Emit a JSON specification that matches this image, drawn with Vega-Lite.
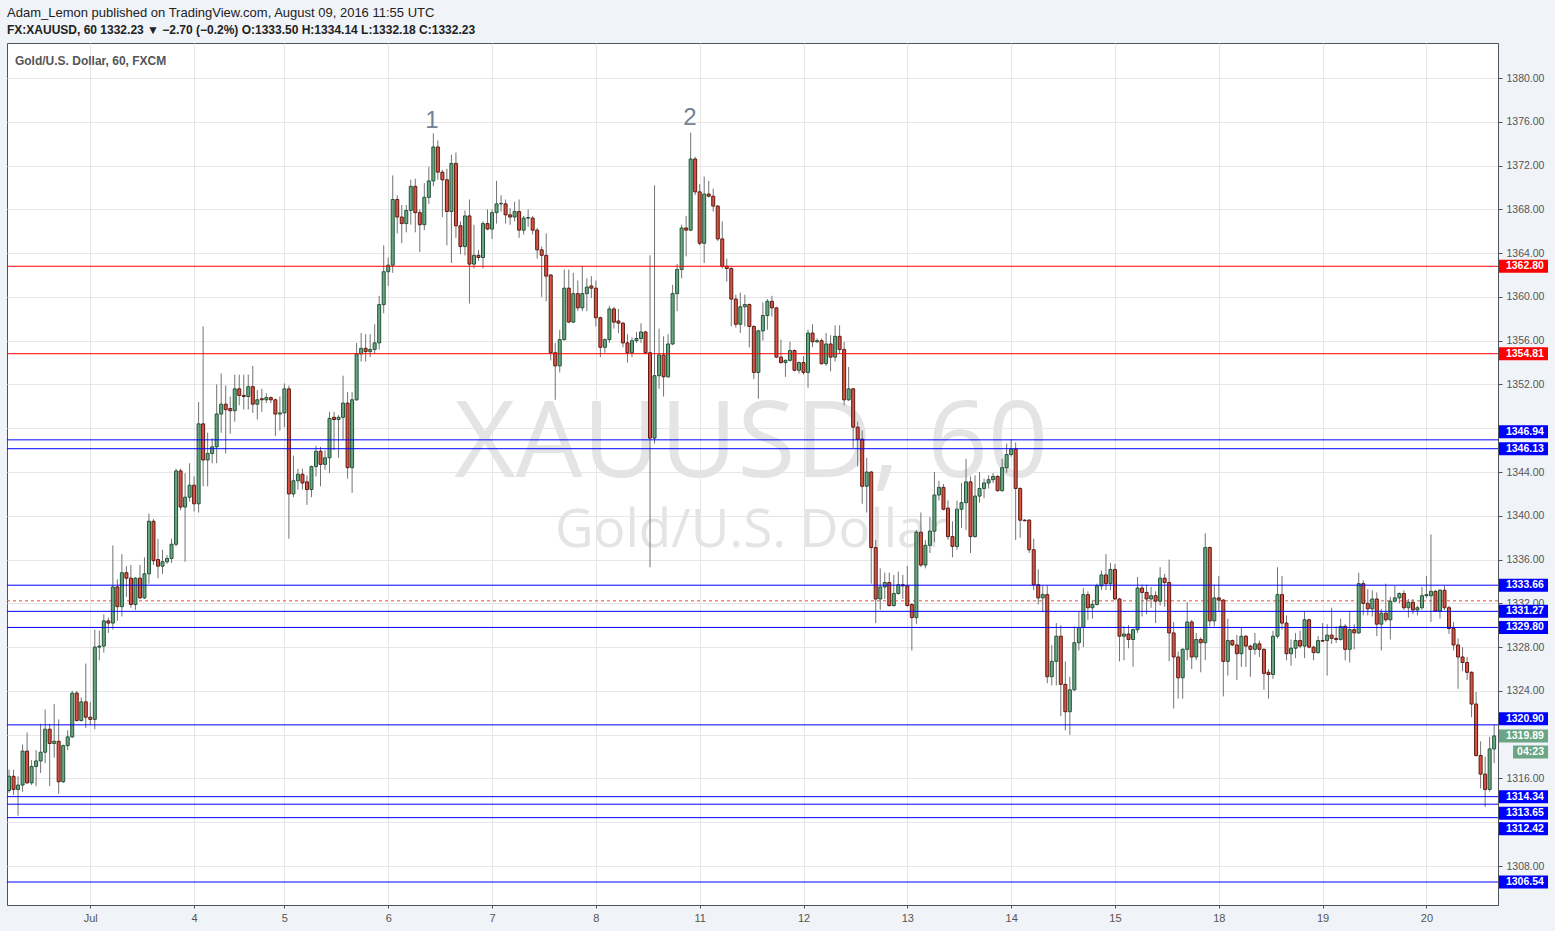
{
  "$schema": "https://vega.github.io/schema/vega-lite/v6.json",
  "width": 1491,
  "height": 862,
  "autosize": {"type": "none"},
  "padding": {"left": 7, "top": 43, "right": 57, "bottom": 26},
  "background": "#f0f3f7",
  "config": {
    "view": {"fill": "white", "stroke": "#50535e", "strokeWidth": 1},
    "font": "Liberation Sans"
  },
  "title": {
    "text": "Adam_Lemon published on TradingView.com, August 09, 2016 11:55 UTC",
    "subtitle": "FX:XAUUSD, 60  1332.23 ▼ −2.70 (−0.2%)  O:1333.50  H:1334.14  L:1332.18  C:1332.23",
    "anchor": "start",
    "frame": "group",
    "offset": 7,
    "font": "Liberation Sans",
    "fontSize": 13,
    "fontWeight": "normal",
    "color": "#222222",
    "subtitleFont": "Liberation Sans",
    "subtitleFontSize": 12,
    "subtitleFontWeight": "bold",
    "subtitleColor": "#222222",
    "subtitlePadding": 5
  },
  "datasets": {
    "candles": [
      {"i":0,"o":1314.9,"h":1316.8,"l":1314.7,"c":1316.2},
      {"i":1,"o":1316.2,"h":1316.8,"l":1314.5,"c":1315.0},
      {"i":2,"o":1315.0,"h":1316.2,"l":1312.6,"c":1315.4},
      {"i":3,"o":1315.4,"h":1319.1,"l":1314.8,"c":1318.5},
      {"i":4,"o":1318.5,"h":1320.2,"l":1315.5,"c":1315.6},
      {"i":5,"o":1315.6,"h":1317.7,"l":1315.4,"c":1317.1},
      {"i":6,"o":1317.1,"h":1318.6,"l":1315.3,"c":1317.6},
      {"i":7,"o":1317.6,"h":1321.0,"l":1316.5,"c":1318.4},
      {"i":8,"o":1318.4,"h":1322.3,"l":1317.4,"c":1320.5},
      {"i":9,"o":1320.5,"h":1321.0,"l":1315.3,"c":1319.2},
      {"i":10,"o":1319.2,"h":1322.8,"l":1317.9,"c":1319.4},
      {"i":11,"o":1319.4,"h":1321.4,"l":1314.6,"c":1315.7},
      {"i":12,"o":1315.7,"h":1319.1,"l":1315.6,"c":1319.0},
      {"i":13,"o":1319.0,"h":1320.4,"l":1318.6,"c":1319.8},
      {"i":14,"o":1319.8,"h":1324.0,"l":1319.7,"c":1323.8},
      {"i":15,"o":1323.8,"h":1324.0,"l":1321.2,"c":1321.3},
      {"i":16,"o":1321.3,"h":1323.4,"l":1321.2,"c":1323.0},
      {"i":17,"o":1323.0,"h":1326.5,"l":1320.6,"c":1321.6},
      {"i":18,"o":1321.6,"h":1323.0,"l":1320.9,"c":1321.4},
      {"i":19,"o":1321.4,"h":1329.6,"l":1320.5,"c":1328.0},
      {"i":20,"o":1328.0,"h":1329.5,"l":1326.8,"c":1328.1},
      {"i":21,"o":1328.1,"h":1331.0,"l":1327.5,"c":1330.4},
      {"i":22,"o":1330.4,"h":1330.7,"l":1329.3,"c":1330.2},
      {"i":23,"o":1330.2,"h":1337.3,"l":1329.6,"c":1333.5},
      {"i":24,"o":1333.5,"h":1334.2,"l":1330.4,"c":1331.7},
      {"i":25,"o":1331.7,"h":1336.5,"l":1330.8,"c":1334.8},
      {"i":26,"o":1334.8,"h":1335.4,"l":1332.6,"c":1334.3},
      {"i":27,"o":1334.3,"h":1335.5,"l":1331.6,"c":1331.9},
      {"i":28,"o":1331.9,"h":1334.4,"l":1331.4,"c":1334.3},
      {"i":29,"o":1334.3,"h":1335.5,"l":1332.4,"c":1332.5},
      {"i":30,"o":1332.5,"h":1336.2,"l":1332.4,"c":1334.7},
      {"i":31,"o":1334.7,"h":1340.2,"l":1333.8,"c":1339.5},
      {"i":32,"o":1339.5,"h":1339.7,"l":1335.5,"c":1335.9},
      {"i":33,"o":1336.0,"h":1337.9,"l":1334.3,"c":1335.4},
      {"i":34,"o":1335.4,"h":1336.9,"l":1334.7,"c":1335.8},
      {"i":35,"o":1335.8,"h":1336.4,"l":1335.6,"c":1336.1},
      {"i":36,"o":1336.1,"h":1337.9,"l":1335.7,"c":1337.4},
      {"i":37,"o":1337.4,"h":1344.3,"l":1337.2,"c":1344.1},
      {"i":38,"o":1344.1,"h":1344.3,"l":1340.5,"c":1340.8},
      {"i":39,"o":1340.8,"h":1343.9,"l":1335.8,"c":1341.7},
      {"i":40,"o":1341.7,"h":1344.8,"l":1341.3,"c":1342.8},
      {"i":41,"o":1342.8,"h":1343.6,"l":1340.4,"c":1341.1},
      {"i":42,"o":1341.1,"h":1350.4,"l":1340.3,"c":1348.4},
      {"i":43,"o":1348.4,"h":1357.3,"l":1342.7,"c":1345.1},
      {"i":44,"o":1345.1,"h":1347.6,"l":1342.7,"c":1345.7},
      {"i":45,"o":1345.7,"h":1347.1,"l":1344.8,"c":1346.3},
      {"i":46,"o":1346.3,"h":1352.0,"l":1344.8,"c":1349.3},
      {"i":47,"o":1349.3,"h":1353.0,"l":1347.6,"c":1350.2},
      {"i":48,"o":1350.2,"h":1351.9,"l":1345.7,"c":1349.7},
      {"i":49,"o":1349.8,"h":1350.9,"l":1347.5,"c":1349.6},
      {"i":50,"o":1349.6,"h":1352.9,"l":1348.6,"c":1351.6},
      {"i":51,"o":1351.6,"h":1352.9,"l":1350.1,"c":1351.0},
      {"i":52,"o":1351.0,"h":1352.9,"l":1349.7,"c":1350.9},
      {"i":53,"o":1350.9,"h":1352.9,"l":1349.7,"c":1351.8},
      {"i":54,"o":1351.8,"h":1353.7,"l":1349.4,"c":1350.2},
      {"i":55,"o":1350.2,"h":1351.5,"l":1348.8,"c":1350.6},
      {"i":56,"o":1350.7,"h":1351.6,"l":1349.5,"c":1350.6},
      {"i":57,"o":1350.6,"h":1351.2,"l":1350.3,"c":1350.8},
      {"i":58,"o":1350.8,"h":1350.9,"l":1350.3,"c":1350.6},
      {"i":59,"o":1350.6,"h":1350.7,"l":1347.3,"c":1349.3},
      {"i":60,"o":1349.3,"h":1350.9,"l":1347.8,"c":1349.4},
      {"i":61,"o":1349.4,"h":1352.1,"l":1348.1,"c":1351.6},
      {"i":62,"o":1351.6,"h":1351.9,"l":1337.9,"c":1342.0},
      {"i":63,"o":1342.0,"h":1345.5,"l":1341.7,"c":1343.2},
      {"i":64,"o":1343.2,"h":1344.3,"l":1342.4,"c":1343.8},
      {"i":65,"o":1343.8,"h":1344.3,"l":1342.4,"c":1343.0},
      {"i":66,"o":1343.1,"h":1343.7,"l":1341.0,"c":1342.4},
      {"i":67,"o":1342.4,"h":1344.6,"l":1341.7,"c":1344.5},
      {"i":68,"o":1344.5,"h":1346.4,"l":1343.6,"c":1345.9},
      {"i":69,"o":1345.9,"h":1346.3,"l":1342.7,"c":1344.7},
      {"i":70,"o":1344.7,"h":1346.0,"l":1344.2,"c":1345.3},
      {"i":71,"o":1345.3,"h":1349.5,"l":1343.9,"c":1348.9},
      {"i":72,"o":1349.0,"h":1349.5,"l":1346.0,"c":1348.8},
      {"i":73,"o":1348.8,"h":1349.2,"l":1345.3,"c":1349.0},
      {"i":74,"o":1349.0,"h":1352.8,"l":1346.9,"c":1350.3},
      {"i":75,"o":1350.3,"h":1351.3,"l":1343.4,"c":1344.4},
      {"i":76,"o":1344.4,"h":1351.3,"l":1342.1,"c":1350.6},
      {"i":77,"o":1350.6,"h":1355.8,"l":1350.5,"c":1354.8},
      {"i":78,"o":1354.8,"h":1356.7,"l":1354.1,"c":1355.3},
      {"i":79,"o":1355.3,"h":1356.6,"l":1354.1,"c":1355.0},
      {"i":80,"o":1355.0,"h":1356.6,"l":1354.5,"c":1355.2},
      {"i":81,"o":1355.2,"h":1357.5,"l":1354.8,"c":1355.8},
      {"i":82,"o":1355.8,"h":1360.1,"l":1355.2,"c":1359.3},
      {"i":83,"o":1359.3,"h":1364.7,"l":1358.5,"c":1362.3},
      {"i":84,"o":1362.3,"h":1363.6,"l":1361.0,"c":1362.9},
      {"i":85,"o":1362.9,"h":1371.1,"l":1362.2,"c":1368.9},
      {"i":86,"o":1368.9,"h":1369.3,"l":1365.8,"c":1367.3},
      {"i":87,"o":1367.3,"h":1368.4,"l":1364.9,"c":1366.7},
      {"i":88,"o":1366.7,"h":1368.4,"l":1365.9,"c":1367.9},
      {"i":89,"o":1367.9,"h":1370.7,"l":1366.6,"c":1370.1},
      {"i":90,"o":1370.1,"h":1370.8,"l":1365.9,"c":1367.7},
      {"i":91,"o":1367.7,"h":1368.0,"l":1364.1,"c":1366.6},
      {"i":92,"o":1366.6,"h":1370.4,"l":1366.1,"c":1369.1},
      {"i":93,"o":1369.1,"h":1371.9,"l":1368.5,"c":1370.6},
      {"i":94,"o":1370.6,"h":1374.95,"l":1370.1,"c":1373.7},
      {"i":95,"o":1373.7,"h":1374.3,"l":1370.7,"c":1371.4},
      {"i":96,"o":1371.4,"h":1371.6,"l":1367.3,"c":1370.7},
      {"i":97,"o":1370.7,"h":1371.7,"l":1364.7,"c":1367.8},
      {"i":98,"o":1367.8,"h":1373.0,"l":1363.1,"c":1372.2},
      {"i":99,"o":1372.2,"h":1373.2,"l":1365.4,"c":1366.5},
      {"i":100,"o":1366.5,"h":1366.9,"l":1363.9,"c":1364.6},
      {"i":101,"o":1364.6,"h":1367.9,"l":1363.8,"c":1367.4},
      {"i":102,"o":1367.4,"h":1368.9,"l":1359.4,"c":1363.0},
      {"i":103,"o":1363.0,"h":1366.6,"l":1362.6,"c":1363.8},
      {"i":104,"o":1363.8,"h":1364.3,"l":1363.3,"c":1363.6},
      {"i":105,"o":1363.6,"h":1366.9,"l":1362.6,"c":1366.7},
      {"i":106,"o":1366.7,"h":1368.0,"l":1366.1,"c":1366.2},
      {"i":107,"o":1366.2,"h":1368.0,"l":1365.3,"c":1367.7},
      {"i":108,"o":1367.7,"h":1370.6,"l":1366.7,"c":1368.5},
      {"i":109,"o":1368.5,"h":1369.3,"l":1367.8,"c":1368.55},
      {"i":110,"o":1368.5,"h":1368.9,"l":1366.7,"c":1367.5},
      {"i":111,"o":1367.5,"h":1368.1,"l":1366.6,"c":1367.3},
      {"i":112,"o":1367.3,"h":1368.7,"l":1366.9,"c":1367.8},
      {"i":113,"o":1367.8,"h":1368.9,"l":1365.4,"c":1366.1},
      {"i":114,"o":1366.1,"h":1367.4,"l":1365.7,"c":1367.2},
      {"i":115,"o":1367.2,"h":1368.0,"l":1366.4,"c":1367.25},
      {"i":116,"o":1367.2,"h":1367.4,"l":1365.7,"c":1366.1},
      {"i":117,"o":1366.1,"h":1366.3,"l":1363.5,"c":1364.3},
      {"i":118,"o":1364.3,"h":1364.6,"l":1360.0,"c":1363.8},
      {"i":119,"o":1363.8,"h":1365.8,"l":1359.6,"c":1361.9},
      {"i":120,"o":1362.0,"h":1362.1,"l":1354.2,"c":1354.9},
      {"i":121,"o":1354.9,"h":1355.8,"l":1350.6,"c":1353.7},
      {"i":122,"o":1353.7,"h":1357.0,"l":1353.1,"c":1356.1},
      {"i":123,"o":1356.1,"h":1362.5,"l":1356.0,"c":1360.8},
      {"i":124,"o":1360.8,"h":1362.5,"l":1357.6,"c":1357.7},
      {"i":125,"o":1357.7,"h":1362.2,"l":1357.6,"c":1360.3},
      {"i":126,"o":1360.3,"h":1361.5,"l":1358.7,"c":1359.0},
      {"i":127,"o":1359.0,"h":1362.8,"l":1358.7,"c":1360.3},
      {"i":128,"o":1360.3,"h":1361.7,"l":1358.7,"c":1360.9},
      {"i":129,"o":1361.0,"h":1361.9,"l":1359.9,"c":1360.8},
      {"i":130,"o":1360.8,"h":1361.5,"l":1357.3,"c":1358.1},
      {"i":131,"o":1358.1,"h":1358.2,"l":1354.5,"c":1355.4},
      {"i":132,"o":1355.4,"h":1356.2,"l":1354.9,"c":1356.1},
      {"i":133,"o":1356.1,"h":1359.2,"l":1355.8,"c":1358.9},
      {"i":134,"o":1358.9,"h":1359.1,"l":1357.1,"c":1357.7},
      {"i":135,"o":1357.8,"h":1358.9,"l":1356.7,"c":1357.6},
      {"i":136,"o":1357.6,"h":1357.7,"l":1355.4,"c":1355.8},
      {"i":137,"o":1355.8,"h":1356.6,"l":1354.0,"c":1354.9},
      {"i":138,"o":1354.9,"h":1356.3,"l":1354.5,"c":1356.0},
      {"i":139,"o":1356.0,"h":1356.8,"l":1355.8,"c":1356.2},
      {"i":140,"o":1356.2,"h":1357.6,"l":1355.8,"c":1356.8},
      {"i":141,"o":1356.8,"h":1356.9,"l":1354.8,"c":1354.9},
      {"i":142,"o":1354.9,"h":1363.8,"l":1335.3,"c":1347.1},
      {"i":143,"o":1347.1,"h":1370.2,"l":1346.6,"c":1352.8},
      {"i":144,"o":1352.8,"h":1357.1,"l":1351.6,"c":1354.7},
      {"i":145,"o":1354.7,"h":1356.4,"l":1350.9,"c":1352.7},
      {"i":146,"o":1352.7,"h":1356.6,"l":1352.6,"c":1355.7},
      {"i":147,"o":1355.7,"h":1361.1,"l":1355.6,"c":1360.3},
      {"i":148,"o":1360.3,"h":1363.0,"l":1358.7,"c":1362.5},
      {"i":149,"o":1362.5,"h":1366.6,"l":1361.7,"c":1366.3},
      {"i":150,"o":1366.3,"h":1367.4,"l":1363.7,"c":1366.1},
      {"i":151,"o":1366.1,"h":1375.0,"l":1366.0,"c":1372.6},
      {"i":152,"o":1372.6,"h":1372.8,"l":1369.3,"c":1369.6},
      {"i":153,"o":1369.6,"h":1370.3,"l":1364.7,"c":1364.9},
      {"i":154,"o":1364.9,"h":1371.0,"l":1363.1,"c":1369.4},
      {"i":155,"o":1369.4,"h":1370.6,"l":1369.1,"c":1369.2},
      {"i":156,"o":1369.2,"h":1369.9,"l":1367.8,"c":1368.3},
      {"i":157,"o":1368.3,"h":1368.4,"l":1365.1,"c":1365.3},
      {"i":158,"o":1365.3,"h":1366.9,"l":1362.6,"c":1362.8},
      {"i":159,"o":1362.8,"h":1363.5,"l":1361.4,"c":1362.6},
      {"i":160,"o":1362.6,"h":1362.7,"l":1357.3,"c":1359.8},
      {"i":161,"o":1359.8,"h":1360.2,"l":1357.2,"c":1357.5},
      {"i":162,"o":1357.5,"h":1360.4,"l":1356.7,"c":1359.1},
      {"i":163,"o":1359.1,"h":1360.2,"l":1357.3,"c":1359.3},
      {"i":164,"o":1359.3,"h":1359.4,"l":1355.4,"c":1357.3},
      {"i":165,"o":1357.3,"h":1357.4,"l":1352.5,"c":1353.1},
      {"i":166,"o":1353.1,"h":1357.0,"l":1350.7,"c":1356.9},
      {"i":167,"o":1356.9,"h":1359.5,"l":1356.0,"c":1358.3},
      {"i":168,"o":1358.3,"h":1359.8,"l":1357.0,"c":1359.6},
      {"i":169,"o":1359.6,"h":1360.1,"l":1358.2,"c":1359.0},
      {"i":170,"o":1359.0,"h":1359.1,"l":1354.4,"c":1354.5},
      {"i":171,"o":1354.5,"h":1356.1,"l":1353.9,"c":1354.0},
      {"i":172,"o":1354.0,"h":1354.3,"l":1352.7,"c":1354.2},
      {"i":173,"o":1354.2,"h":1355.9,"l":1354.1,"c":1355.1},
      {"i":174,"o":1355.1,"h":1355.2,"l":1353.2,"c":1353.3},
      {"i":175,"o":1353.3,"h":1354.1,"l":1353.0,"c":1354.0},
      {"i":176,"o":1354.0,"h":1354.6,"l":1352.9,"c":1353.1},
      {"i":177,"o":1353.1,"h":1357.0,"l":1351.7,"c":1356.7},
      {"i":178,"o":1356.7,"h":1357.5,"l":1355.4,"c":1355.9},
      {"i":179,"o":1355.9,"h":1356.2,"l":1355.8,"c":1356.0},
      {"i":180,"o":1356.0,"h":1356.2,"l":1353.8,"c":1353.9},
      {"i":181,"o":1353.9,"h":1356.7,"l":1353.7,"c":1355.7},
      {"i":182,"o":1355.7,"h":1356.5,"l":1353.2,"c":1354.5},
      {"i":183,"o":1354.5,"h":1357.4,"l":1354.1,"c":1356.4},
      {"i":184,"o":1356.4,"h":1357.4,"l":1354.8,"c":1355.2},
      {"i":185,"o":1355.2,"h":1355.9,"l":1350.1,"c":1350.6},
      {"i":186,"o":1350.6,"h":1353.6,"l":1350.5,"c":1351.6},
      {"i":187,"o":1351.6,"h":1351.7,"l":1346.2,"c":1348.1},
      {"i":188,"o":1348.1,"h":1348.6,"l":1344.5,"c":1347.0},
      {"i":189,"o":1347.0,"h":1347.8,"l":1341.1,"c":1342.7},
      {"i":190,"o":1342.7,"h":1345.3,"l":1340.3,"c":1344.0},
      {"i":191,"o":1344.0,"h":1344.1,"l":1333.8,"c":1337.1},
      {"i":192,"o":1337.1,"h":1337.8,"l":1330.2,"c":1332.4},
      {"i":193,"o":1332.4,"h":1335.2,"l":1331.4,"c":1333.5},
      {"i":194,"o":1333.5,"h":1334.8,"l":1332.4,"c":1333.9},
      {"i":195,"o":1333.9,"h":1334.8,"l":1331.7,"c":1331.8},
      {"i":196,"o":1331.8,"h":1334.6,"l":1331.7,"c":1332.9},
      {"i":197,"o":1332.9,"h":1334.9,"l":1332.8,"c":1333.7},
      {"i":198,"o":1333.7,"h":1334.6,"l":1332.4,"c":1333.6},
      {"i":199,"o":1333.6,"h":1335.4,"l":1331.7,"c":1331.8},
      {"i":200,"o":1331.9,"h":1332.0,"l":1327.7,"c":1330.7},
      {"i":201,"o":1330.7,"h":1338.7,"l":1330.1,"c":1338.5},
      {"i":202,"o":1338.5,"h":1340.3,"l":1335.3,"c":1335.5},
      {"i":203,"o":1335.5,"h":1337.8,"l":1335.2,"c":1337.3},
      {"i":204,"o":1337.3,"h":1339.9,"l":1336.6,"c":1338.6},
      {"i":205,"o":1338.6,"h":1344.0,"l":1337.6,"c":1341.9},
      {"i":206,"o":1341.9,"h":1343.2,"l":1341.4,"c":1342.6},
      {"i":207,"o":1342.6,"h":1342.9,"l":1340.5,"c":1340.6},
      {"i":208,"o":1340.7,"h":1341.4,"l":1337.8,"c":1338.1},
      {"i":209,"o":1338.1,"h":1339.5,"l":1336.2,"c":1337.2},
      {"i":210,"o":1337.2,"h":1341.4,"l":1336.9,"c":1340.6},
      {"i":211,"o":1340.6,"h":1343.0,"l":1338.9,"c":1341.2},
      {"i":212,"o":1341.2,"h":1345.2,"l":1338.7,"c":1343.1},
      {"i":213,"o":1343.1,"h":1343.6,"l":1336.6,"c":1338.1},
      {"i":214,"o":1338.1,"h":1343.7,"l":1338.0,"c":1341.8},
      {"i":215,"o":1341.8,"h":1344.0,"l":1341.2,"c":1342.5},
      {"i":216,"o":1342.5,"h":1343.4,"l":1341.6,"c":1343.0},
      {"i":217,"o":1343.0,"h":1343.7,"l":1342.5,"c":1343.3},
      {"i":218,"o":1343.3,"h":1343.9,"l":1343.0,"c":1343.6},
      {"i":219,"o":1343.6,"h":1343.7,"l":1342.2,"c":1342.3},
      {"i":220,"o":1342.3,"h":1345.2,"l":1342.2,"c":1344.4},
      {"i":221,"o":1344.4,"h":1346.6,"l":1343.9,"c":1345.6},
      {"i":222,"o":1345.6,"h":1347.0,"l":1345.4,"c":1346.1},
      {"i":223,"o":1346.1,"h":1346.7,"l":1337.8,"c":1342.5},
      {"i":224,"o":1342.5,"h":1342.6,"l":1338.0,"c":1339.6},
      {"i":225,"o":1339.6,"h":1339.7,"l":1339.5,"c":1339.55},
      {"i":226,"o":1339.6,"h":1339.7,"l":1336.6,"c":1336.9},
      {"i":227,"o":1336.9,"h":1337.9,"l":1333.2,"c":1333.7},
      {"i":228,"o":1333.7,"h":1335.1,"l":1331.9,"c":1332.5},
      {"i":229,"o":1332.5,"h":1333.6,"l":1331.2,"c":1332.8},
      {"i":230,"o":1332.8,"h":1333.6,"l":1324.7,"c":1325.3},
      {"i":231,"o":1325.3,"h":1328.2,"l":1324.5,"c":1326.7},
      {"i":232,"o":1326.7,"h":1330.2,"l":1324.5,"c":1329.0},
      {"i":233,"o":1329.0,"h":1330.0,"l":1321.7,"c":1324.6},
      {"i":234,"o":1324.6,"h":1326.7,"l":1320.4,"c":1322.1},
      {"i":235,"o":1322.1,"h":1325.3,"l":1320.0,"c":1324.1},
      {"i":236,"o":1324.1,"h":1329.9,"l":1324.0,"c":1328.4},
      {"i":237,"o":1328.4,"h":1331.3,"l":1327.7,"c":1329.8},
      {"i":238,"o":1329.8,"h":1333.4,"l":1328.0,"c":1332.8},
      {"i":239,"o":1332.8,"h":1333.1,"l":1330.5,"c":1331.6},
      {"i":240,"o":1331.6,"h":1332.3,"l":1330.6,"c":1331.9},
      {"i":241,"o":1331.9,"h":1333.8,"l":1331.8,"c":1333.6},
      {"i":242,"o":1333.6,"h":1335.0,"l":1333.2,"c":1334.6},
      {"i":243,"o":1334.6,"h":1336.5,"l":1333.2,"c":1333.8},
      {"i":244,"o":1333.8,"h":1335.7,"l":1333.2,"c":1335.1},
      {"i":245,"o":1335.1,"h":1335.6,"l":1332.3,"c":1332.4},
      {"i":246,"o":1332.4,"h":1332.5,"l":1326.7,"c":1329.0},
      {"i":247,"o":1329.0,"h":1329.9,"l":1326.8,"c":1329.2},
      {"i":248,"o":1329.2,"h":1330.0,"l":1327.9,"c":1328.7},
      {"i":249,"o":1328.7,"h":1329.7,"l":1326.2,"c":1329.6},
      {"i":250,"o":1329.6,"h":1334.4,"l":1329.3,"c":1333.4},
      {"i":251,"o":1333.4,"h":1333.7,"l":1330.8,"c":1333.0},
      {"i":252,"o":1333.0,"h":1333.7,"l":1331.0,"c":1332.4},
      {"i":253,"o":1332.4,"h":1333.5,"l":1331.6,"c":1332.7},
      {"i":254,"o":1332.7,"h":1333.1,"l":1330.2,"c":1332.2},
      {"i":255,"o":1332.2,"h":1335.3,"l":1331.8,"c":1334.3},
      {"i":256,"o":1334.3,"h":1334.7,"l":1331.7,"c":1333.9},
      {"i":257,"o":1333.9,"h":1336.0,"l":1326.7,"c":1329.3},
      {"i":258,"o":1329.3,"h":1330.3,"l":1322.4,"c":1327.1},
      {"i":259,"o":1327.1,"h":1327.6,"l":1323.3,"c":1325.2},
      {"i":260,"o":1325.2,"h":1327.9,"l":1323.3,"c":1327.8},
      {"i":261,"o":1327.8,"h":1332.1,"l":1326.8,"c":1330.3},
      {"i":262,"o":1330.3,"h":1330.5,"l":1326.0,"c":1327.1},
      {"i":263,"o":1327.1,"h":1329.3,"l":1326.8,"c":1328.7},
      {"i":264,"o":1328.7,"h":1328.9,"l":1325.7,"c":1328.4},
      {"i":265,"o":1328.4,"h":1338.4,"l":1326.8,"c":1337.1},
      {"i":266,"o":1337.1,"h":1337.2,"l":1329.9,"c":1330.4},
      {"i":267,"o":1330.4,"h":1333.7,"l":1329.9,"c":1332.5},
      {"i":268,"o":1332.5,"h":1334.5,"l":1331.2,"c":1332.3},
      {"i":269,"o":1332.3,"h":1332.4,"l":1323.5,"c":1326.7},
      {"i":270,"o":1326.7,"h":1330.6,"l":1325.4,"c":1328.6},
      {"i":271,"o":1328.6,"h":1328.7,"l":1328.1,"c":1328.2},
      {"i":272,"o":1328.2,"h":1329.1,"l":1325.0,"c":1327.4},
      {"i":273,"o":1327.4,"h":1329.8,"l":1326.2,"c":1329.0},
      {"i":274,"o":1329.0,"h":1329.1,"l":1326.2,"c":1328.1},
      {"i":275,"o":1328.1,"h":1328.2,"l":1325.3,"c":1327.8},
      {"i":276,"o":1327.8,"h":1329.3,"l":1327.3,"c":1328.3},
      {"i":277,"o":1328.3,"h":1328.6,"l":1327.1,"c":1327.8},
      {"i":278,"o":1327.8,"h":1327.9,"l":1324.1,"c":1325.6},
      {"i":279,"o":1325.7,"h":1326.0,"l":1323.3,"c":1325.5},
      {"i":280,"o":1325.5,"h":1329.5,"l":1325.1,"c":1329.0},
      {"i":281,"o":1329.0,"h":1335.3,"l":1328.8,"c":1332.8},
      {"i":282,"o":1332.8,"h":1334.5,"l":1329.6,"c":1330.2},
      {"i":283,"o":1330.2,"h":1330.9,"l":1326.8,"c":1327.4},
      {"i":284,"o":1327.4,"h":1328.7,"l":1326.3,"c":1327.9},
      {"i":285,"o":1327.9,"h":1329.3,"l":1327.0,"c":1328.6},
      {"i":286,"o":1328.6,"h":1329.5,"l":1327.9,"c":1328.1},
      {"i":287,"o":1328.1,"h":1331.3,"l":1327.0,"c":1330.5},
      {"i":288,"o":1330.5,"h":1330.6,"l":1327.9,"c":1328.0},
      {"i":289,"o":1328.0,"h":1328.1,"l":1326.8,"c":1327.5},
      {"i":290,"o":1327.5,"h":1329.0,"l":1327.4,"c":1328.6},
      {"i":291,"o":1328.6,"h":1330.2,"l":1328.5,"c":1328.55},
      {"i":292,"o":1328.6,"h":1330.1,"l":1325.4,"c":1329.1},
      {"i":293,"o":1329.1,"h":1331.6,"l":1328.3,"c":1328.8},
      {"i":294,"o":1328.8,"h":1329.9,"l":1328.4,"c":1328.7},
      {"i":295,"o":1328.7,"h":1330.6,"l":1328.6,"c":1329.9},
      {"i":296,"o":1329.9,"h":1330.1,"l":1326.8,"c":1327.8},
      {"i":297,"o":1327.8,"h":1331.3,"l":1326.6,"c":1329.6},
      {"i":298,"o":1329.6,"h":1330.1,"l":1327.8,"c":1329.3},
      {"i":299,"o":1329.3,"h":1334.8,"l":1329.2,"c":1333.8},
      {"i":300,"o":1333.8,"h":1334.1,"l":1330.9,"c":1332.0},
      {"i":301,"o":1332.0,"h":1333.3,"l":1330.9,"c":1331.5},
      {"i":302,"o":1331.5,"h":1333.2,"l":1330.8,"c":1332.4},
      {"i":303,"o":1332.4,"h":1333.0,"l":1329.0,"c":1330.1},
      {"i":304,"o":1330.1,"h":1331.5,"l":1327.7,"c":1331.1},
      {"i":305,"o":1331.1,"h":1333.8,"l":1330.3,"c":1330.5},
      {"i":306,"o":1330.5,"h":1332.6,"l":1328.7,"c":1332.2},
      {"i":307,"o":1332.2,"h":1333.6,"l":1332.1,"c":1332.5},
      {"i":308,"o":1332.5,"h":1333.0,"l":1332.0,"c":1332.9},
      {"i":309,"o":1332.9,"h":1333.2,"l":1331.4,"c":1331.6},
      {"i":310,"o":1331.6,"h":1332.4,"l":1330.7,"c":1332.1},
      {"i":311,"o":1332.1,"h":1332.4,"l":1331.0,"c":1331.4},
      {"i":312,"o":1331.4,"h":1331.8,"l":1330.9,"c":1331.6},
      {"i":313,"o":1331.6,"h":1333.5,"l":1331.4,"c":1332.7},
      {"i":314,"o":1332.7,"h":1334.5,"l":1332.5,"c":1332.8},
      {"i":315,"o":1332.7,"h":1338.3,"l":1330.3,"c":1333.1},
      {"i":316,"o":1333.1,"h":1333.2,"l":1331.2,"c":1331.3},
      {"i":317,"o":1331.3,"h":1333.3,"l":1330.6,"c":1333.2},
      {"i":318,"o":1333.2,"h":1333.6,"l":1331.4,"c":1331.6},
      {"i":319,"o":1331.6,"h":1331.8,"l":1329.2,"c":1329.7},
      {"i":320,"o":1329.7,"h":1330.3,"l":1327.7,"c":1328.2},
      {"i":321,"o":1328.2,"h":1328.8,"l":1324.2,"c":1327.1},
      {"i":322,"o":1327.1,"h":1328.0,"l":1325.8,"c":1326.6},
      {"i":323,"o":1326.6,"h":1327.1,"l":1325.0,"c":1325.7},
      {"i":324,"o":1325.7,"h":1325.8,"l":1321.6,"c":1322.8},
      {"i":325,"o":1322.8,"h":1323.9,"l":1318.0,"c":1318.1},
      {"i":326,"o":1318.1,"h":1319.4,"l":1315.1,"c":1316.4},
      {"i":327,"o":1316.4,"h":1318.0,"l":1313.4,"c":1315.0},
      {"i":328,"o":1315.0,"h":1319.8,"l":1314.8,"c":1318.7},
      {"i":329,"o":1318.7,"h":1320.9,"l":1317.4,"c":1319.89}
    ],
    "levels": [
      {"p": 1362.80, "set": "A"},
      {"p": 1354.81, "set": "A"},
      {"p": 1346.94, "set": "B"},
      {"p": 1346.13, "set": "B"},
      {"p": 1333.66, "set": "B"},
      {"p": 1331.27, "set": "B"},
      {"p": 1329.80, "set": "B"},
      {"p": 1320.90, "set": "B"},
      {"p": 1314.34, "set": "B"},
      {"p": 1313.65, "set": "B"},
      {"p": 1312.42, "set": "B"},
      {"p": 1306.54, "set": "B"}
    ],
    "quote": [{"p": 1332.23}],
    "last": [{"p": 1319.89, "timer": "04:23"}],
    "texts": [
      {"kind": "wm1", "i": 164.45, "p": 1343.54, "text": "XAUUSD, 60"},
      {"kind": "wm2", "i": 164.5, "p": 1337.15, "text": "Gold/U.S. Dollar"},
      {"kind": "peak", "i": 93.7, "p": 1375.4, "text": "1"},
      {"kind": "peak", "i": 150.85, "p": 1375.7, "text": "2"},
      {"kind": "legend", "i": 1.3, "p": 1381.2, "text": "Gold/U.S. Dollar, 60, FXCM"}
    ]
  },
  "layer": [
    {
      "data": {"name": "texts"},
      "transform": [{"filter": "datum.kind == 'wm1'"}],
      "mark": {"type": "text", "font": "Open Sans", "fontSize": 106, "color": "#e4e4e4", "align": "center", "baseline": "alphabetic"},
      "encoding": {
        "x": {
          "field": "i", "type": "quantitative", "title": null,
          "scale": {"domain": [-0.45, 329.85], "nice": false, "zero": false, "padding": 0},
          "axis": {
            "values": [18, 41, 61, 84, 107, 130, 153, 176, 199, 222, 245, 268, 291, 314],
            "labelExpr": "['Jul','4','5','6','7','8','11','12','13','14','15','18','19','20'][indexof([18,41,61,84,107,130,153,176,199,222,245,268,291,314], datum.value)]",
            "grid": true, "gridColor": "#e6e6e6", "gridWidth": 1,
            "domainColor": "#50535e", "domainWidth": 1,
            "tickColor": "#50535e", "tickSize": 3,
            "labelColor": "#555555", "labelFontSize": 11, "labelFont": "Liberation Sans",
            "labelPadding": 4, "labelFlush": false, "labelOverlap": false
          }
        },
        "y": {
          "field": "p", "type": "quantitative", "title": null,
          "scale": {"domain": [1304.44, 1383.2], "nice": false, "zero": false, "padding": 0},
          "axis": {
            "orient": "right",
            "values": [1308, 1312, 1316, 1320, 1324, 1328, 1332, 1336, 1340, 1344, 1348, 1352, 1356, 1360, 1364, 1368, 1372, 1376, 1380],
            "labelExpr": "indexof([1348, 1320, 1312], datum.value) >= 0 ? '' : format(datum.value, '.2f')",
            "grid": true, "gridColor": "#e6e6e6", "gridWidth": 1,
            "domainColor": "#50535e", "domainWidth": 1,
            "tickColor": "#50535e", "tickSize": 4,
            "labelColor": "#555555", "labelFontSize": 10.5, "labelFont": "Liberation Sans",
            "labelPadding": 4, "labelOverlap": false
          }
        },
        "text": {"field": "text"}
      }
    },
    {
      "data": {"name": "texts"},
      "transform": [{"filter": "datum.kind == 'wm2'"}],
      "mark": {"type": "text", "font": "Open Sans", "fontSize": 53, "color": "#e4e4e4", "align": "center", "baseline": "alphabetic"},
      "encoding": {
        "x": {"field": "i", "type": "quantitative", "title": null},
        "y": {"field": "p", "type": "quantitative", "title": null},
        "text": {"field": "text"}
      }
    },
    {
      "data": {"name": "quote"},
      "mark": {"type": "rule", "color": "#ef4a3a", "strokeWidth": 1, "strokeDash": [3, 3]},
      "encoding": {
        "y": {"field": "p", "type": "quantitative", "title": null}
      }
    },
    {
      "data": {"name": "candles"},
      "mark": {"type": "rule", "color": "#737375", "strokeWidth": 1},
      "encoding": {
        "x": {"field": "i", "type": "quantitative", "title": null},
        "y": {"field": "l", "type": "quantitative", "title": null},
        "y2": {"field": "h"}
      }
    },
    {
      "data": {"name": "candles"},
      "mark": {"type": "bar", "width": 3, "strokeWidth": 1},
      "encoding": {
        "x": {"field": "i", "type": "quantitative", "title": null},
        "y": {"field": "o", "type": "quantitative", "title": null},
        "y2": {"field": "c"},
        "color": {"condition": {"test": "datum.c >= datum.o", "value": "#6ba583"}, "value": "#d75442"},
        "stroke": {"condition": {"test": "datum.c >= datum.o", "value": "#225437"}, "value": "#5b1a13"}
      }
    },
    {
      "data": {"name": "levels"},
      "mark": {"type": "rule", "strokeWidth": 1},
      "encoding": {
        "y": {"field": "p", "type": "quantitative", "title": null},
        "color": {"field": "set", "type": "nominal", "scale": {"domain": ["A", "B"], "range": ["#ff0000", "#0000ff"]}, "legend": null}
      }
    },
    {
      "data": {"name": "texts"},
      "transform": [{"filter": "datum.kind == 'peak'"}],
      "mark": {"type": "text", "font": "Liberation Sans", "fontSize": 24, "color": "#6f8296", "align": "center", "baseline": "alphabetic"},
      "encoding": {
        "x": {"field": "i", "type": "quantitative", "title": null},
        "y": {"field": "p", "type": "quantitative", "title": null},
        "text": {"field": "text"}
      }
    },
    {
      "data": {"name": "texts"},
      "transform": [{"filter": "datum.kind == 'legend'"}],
      "mark": {"type": "text", "font": "Liberation Sans", "fontSize": 12, "fontWeight": "bold", "color": "#555555", "align": "left", "baseline": "alphabetic"},
      "encoding": {
        "x": {"field": "i", "type": "quantitative", "title": null},
        "y": {"field": "p", "type": "quantitative", "title": null},
        "text": {"field": "text"}
      }
    },
    {
      "data": {"name": "levels"},
      "mark": {"type": "point", "shape": "M-1,-0.265L1,-0.265L1,0.265L-1,0.265Z", "size": 2401, "filled": true, "opacity": 1, "strokeWidth": 0,
               "yOffset": {"expr": "datum.p == 1346.94 ? -8 : datum.p == 1320.9 ? -6 : datum.p == 1313.65 ? 9 : datum.p == 1312.42 ? 11 : 0"}},
      "encoding": {
        "x": {"datum": 335.5, "type": "quantitative", "title": null},
        "y": {"field": "p", "type": "quantitative", "title": null},
        "color": {"field": "set", "type": "nominal", "scale": {"domain": ["A", "B"], "range": ["#ff0000", "#0000ff"]}, "legend": null}
      }
    },
    {
      "data": {"name": "levels"},
      "mark": {"type": "text", "font": "Liberation Sans", "fontSize": 10.5, "fontWeight": "bold", "color": "white", "align": "left", "baseline": "middle",
               "yOffset": {"expr": "datum.p == 1346.94 ? -8 : datum.p == 1320.9 ? -6 : datum.p == 1313.65 ? 9 : datum.p == 1312.42 ? 11 : 0"}},
      "encoding": {
        "x": {"datum": 331.6, "type": "quantitative", "title": null},
        "y": {"field": "p", "type": "quantitative", "title": null},
        "text": {"field": "p", "type": "quantitative", "format": ".2f"}
      }
    },
    {
      "data": {"name": "last"},
      "mark": {"type": "point", "shape": "M-1,-0.265L1,-0.265L1,0.265L-1,0.265Z", "size": 2401, "filled": true, "opacity": 1, "strokeWidth": 0, "color": "#6ba583"},
      "encoding": {
        "x": {"datum": 335.5, "type": "quantitative", "title": null},
        "y": {"field": "p", "type": "quantitative", "title": null}
      }
    },
    {
      "data": {"name": "last"},
      "mark": {"type": "text", "font": "Liberation Sans", "fontSize": 10.5, "fontWeight": "bold", "color": "white", "align": "left", "baseline": "middle"},
      "encoding": {
        "x": {"datum": 331.6, "type": "quantitative", "title": null},
        "y": {"field": "p", "type": "quantitative", "title": null},
        "text": {"field": "p", "type": "quantitative", "format": ".2f"}
      }
    },
    {
      "data": {"name": "last"},
      "mark": {"type": "point", "shape": "M-1,-0.37L1,-0.37L1,0.37L-1,0.37Z", "size": 1225, "filled": true, "opacity": 1, "strokeWidth": 0, "color": "#6ba583", "yOffset": 16},
      "encoding": {
        "x": {"datum": 337.06, "type": "quantitative", "title": null},
        "y": {"field": "p", "type": "quantitative", "title": null}
      }
    },
    {
      "data": {"name": "last"},
      "mark": {"type": "text", "font": "Liberation Sans", "fontSize": 10.5, "fontWeight": "bold", "color": "white", "align": "center", "baseline": "middle", "yOffset": 16},
      "encoding": {
        "x": {"datum": 337.06, "type": "quantitative", "title": null},
        "y": {"field": "p", "type": "quantitative", "title": null},
        "text": {"field": "timer"}
      }
    }
  ]
}
